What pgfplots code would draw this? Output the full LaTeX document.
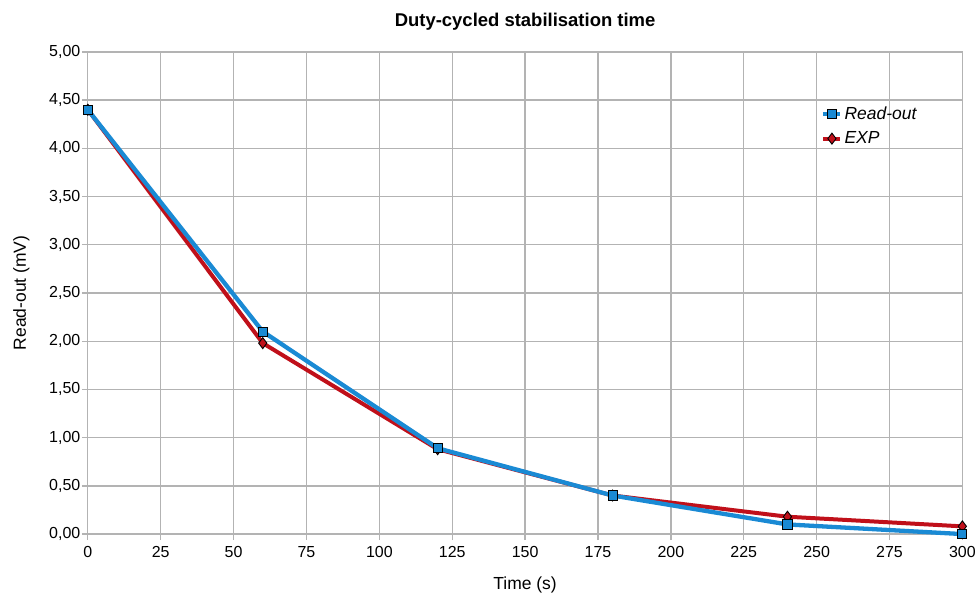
\documentclass[border=0pt]{standalone}
\usepackage{pgfplots}
\pgfplotsset{compat=1.18}
\usepackage{fontspec}
\setmainfont{Liberation Sans}
\definecolor{roblue}{HTML}{1A8AD4}
\definecolor{expred}{HTML}{C0101A}
\definecolor{gridgray}{HTML}{B3B3B3}
\begin{document}
\begin{tikzpicture}
\begin{axis}[
  name=ax,
  scale only axis,
  width=876pt, height=483pt,
  xmin=0, xmax=300, ymin=0, ymax=5,
  xtick={0,25,...,300},
  ytick={0,0.5,...,5},
  grid=major,
  major grid style={gridgray, line width=1.3pt},
  axis line style={gridgray, line width=1.3pt},
  tick style={gridgray, line width=1.3pt},
  tick align=outside,
  major tick length=6pt,
  xtick pos=bottom, ytick pos=left,
  /pgf/number format/assume math mode=true,
  yticklabel style={xshift=2pt, /pgf/number format/.cd, fixed, fixed zerofill, precision=2, use comma},
  xticklabel style={yshift=-3pt, /pgf/number format/.cd, fixed},
  tick label style={font=\fontsize{16}{18}\selectfont},
  title={\bfseries Duty-cycled stabilisation time},
  title style={font=\fontsize{18.5}{22}\selectfont, yshift=12pt},
  xlabel={Time (s)},
  ylabel={Read-out (mV)},
  label style={font=\fontsize{17.5}{20}\selectfont},
  xlabel style={yshift=-12pt},
  ylabel style={yshift=13pt},
  legend style={draw=none, fill=none, at={(0.835,0.895)}, anchor=north west,
    font=\fontsize{17.5}{20}\selectfont\itshape, row sep=7pt},
  legend cell align=left,
  reverse legend,
  clip=false,
]
\addplot[expred, line width=4pt, mark=diamond*, mark size=5.5pt,
  mark options={fill=expred, draw=black, line width=0.9pt}]
  coordinates {(0,4.40) (60,1.98) (120,0.88) (180,0.40) (240,0.18) (300,0.08)};
\addlegendentry{EXP}
\addplot[roblue, line width=4.3pt, mark=square*, mark size=4.6pt,
  mark options={fill=roblue, draw=black, line width=0.9pt}]
  coordinates {(0,4.40) (60,2.10) (120,0.89) (180,0.40) (240,0.10) (300,0.00)};
\addlegendentry{Read-out}
\end{axis}
\path (ax.south west) ++(-88pt,-59pt) coordinate (bbA);
\path (ax.north east) ++(15pt,52pt) coordinate (bbB);
\path (bbA) rectangle (bbB);
\end{tikzpicture}
\end{document}
